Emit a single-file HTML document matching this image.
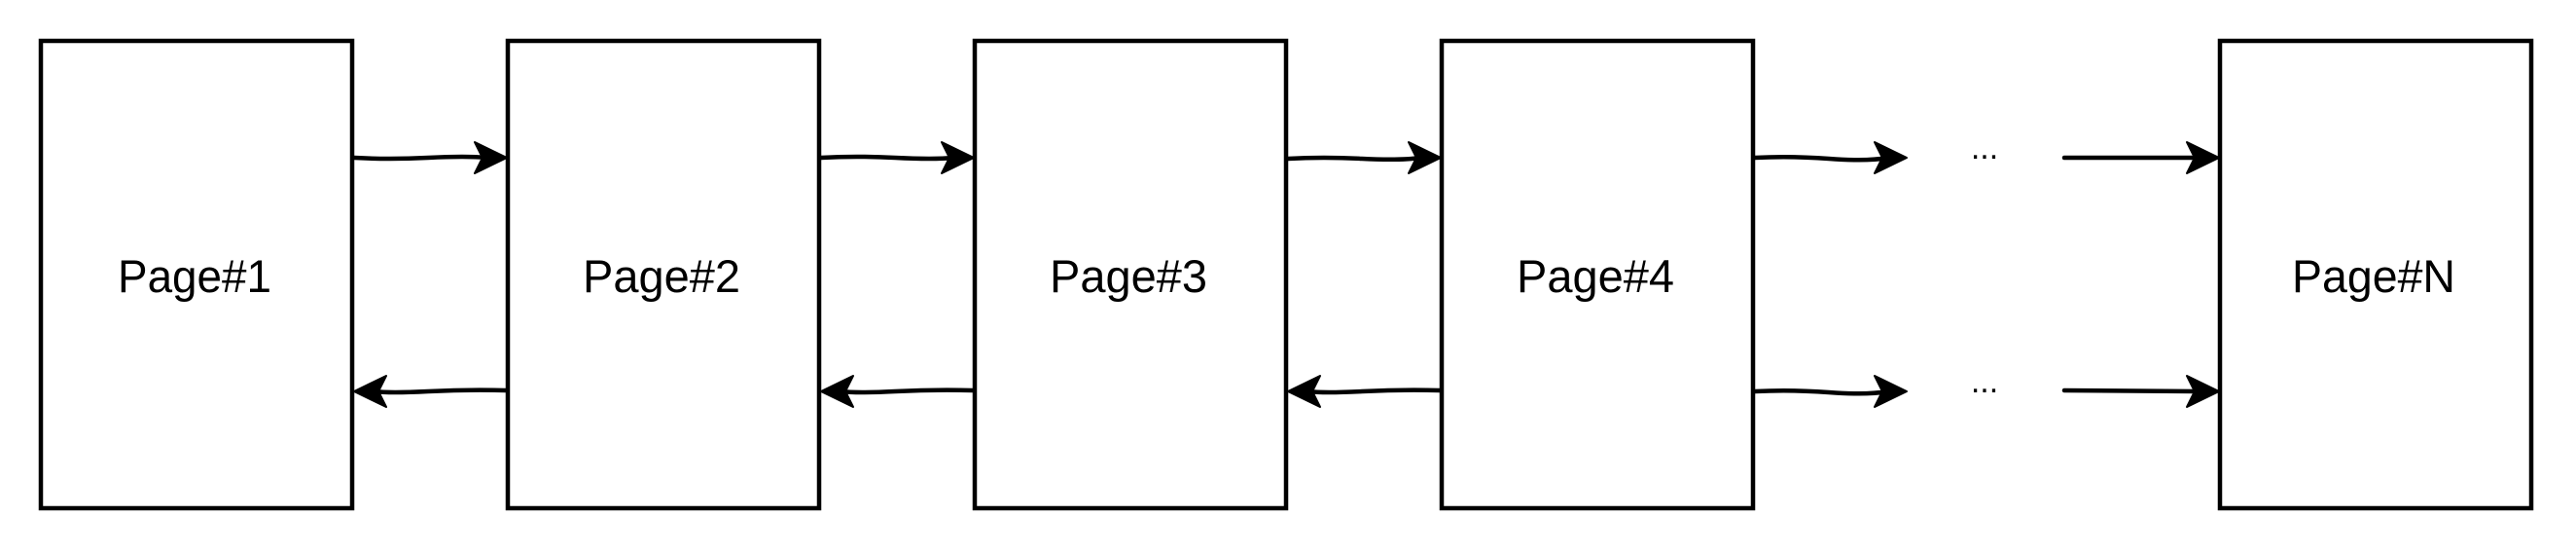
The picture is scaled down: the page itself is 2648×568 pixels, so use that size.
<!DOCTYPE html>
<html><head><meta charset="utf-8"><style>
html,body{margin:0;padding:0;background:#fff;}
svg{display:block;}
text{font-family:"Liberation Sans",Arial,sans-serif;font-size:47px;fill:#000;}
</style></head><body>
<svg width="2648" height="568" viewBox="0 0 2648 568" xmlns="http://www.w3.org/2000/svg">
<g fill="#fff" stroke="#000" stroke-width="4.5">
<rect x="42" y="42" width="320" height="480"/>
<rect x="522" y="42" width="320" height="480"/>
<rect x="1002" y="42" width="320" height="480"/>
<rect x="1482" y="42" width="320" height="480"/>
<rect x="2282" y="42" width="320" height="480"/>
</g>
<g text-anchor="middle">
<text x="200" y="300" textLength="158" lengthAdjust="spacingAndGlyphs">Page#1</text>
<text x="680" y="300" textLength="162" lengthAdjust="spacingAndGlyphs">Page#2</text>
<text x="1160" y="300" textLength="162" lengthAdjust="spacingAndGlyphs">Page#3</text>
<text x="1640" y="300" textLength="162" lengthAdjust="spacingAndGlyphs">Page#4</text>
<text x="2440" y="300" textLength="168" lengthAdjust="spacingAndGlyphs">Page#N</text>
<text x="2040" y="163" style="font-size:34px">...</text>
<text x="2040" y="403" style="font-size:34px">...</text>
</g>
<g stroke="#000" stroke-width="4.5" fill="none" stroke-linecap="round">
<path d="M364 162 Q400 164 440 162 T500 162"/>
<path d="M844 162 Q880 160 920 162 T980 162"/>
<path d="M1324 163 Q1360 161 1400 163 T1460 162"/>
<path d="M1804 162 Q1840 160 1880 163 T1940 162"/>
<path d="M2122 162 L2260 162"/>
<path d="M520 401 Q480 400 440 402 T385 402"/>
<path d="M1000 401 Q960 400 920 402 T865 402"/>
<path d="M1480 401 Q1440 400 1400 402 T1345 402"/>
<path d="M1804 402 Q1840 400 1880 403 T1940 402"/>
<path d="M2122 401 L2260 402"/>
</g>
<g fill="#000" stroke="#000" stroke-width="2" stroke-linejoin="round">
<path d="M521 162 L488 146 L496 162 L488 178 Z"/>
<path d="M1001 162 L968 146 L976 162 L968 178 Z"/>
<path d="M1481 162 L1448 146 L1456 162 L1448 178 Z"/>
<path d="M1960 162 L1927 146 L1935 162 L1927 178 Z"/>
<path d="M2281 162 L2248 146 L2256 162 L2248 178 Z"/>
<path d="M364 402 L397 386 L389 402 L397 418 Z"/>
<path d="M844 402 L877 386 L869 402 L877 418 Z"/>
<path d="M1324 402 L1357 386 L1349 402 L1357 418 Z"/>
<path d="M1960 402 L1927 386 L1935 402 L1927 418 Z"/>
<path d="M2281 402 L2248 386 L2256 402 L2248 418 Z"/>
</g>
</svg>
</body></html>
